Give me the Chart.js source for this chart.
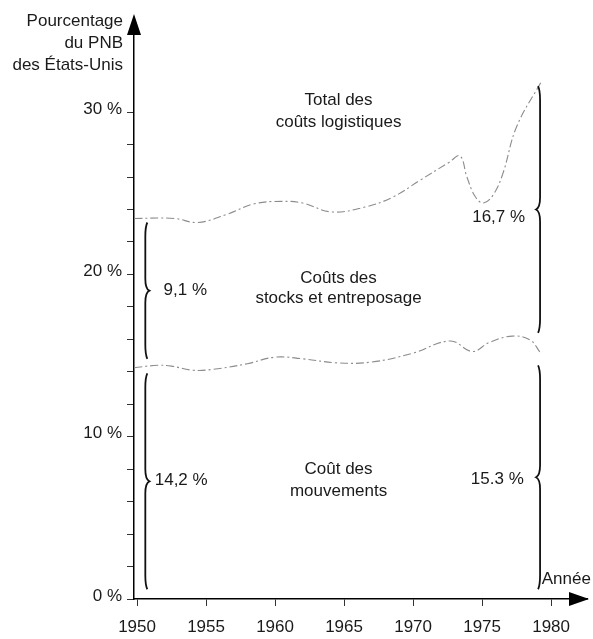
<!DOCTYPE html>
<html>
<head>
<meta charset="utf-8">
<title>Coûts logistiques — % du PNB des États-Unis</title>
<script src="https://cdn.jsdelivr.net/npm/chart.js@4.4.1/dist/chart.umd.min.js"></script>
<style>
  html, body { margin: 0; padding: 0; background: #fff; }
  #wrap { width: 593px; height: 639px; }
</style>
</head>
<body>
<div id="wrap"><canvas id="chart" width="593" height="639"></canvas></div>
<script>
// -------------------------------------------------------
// DATA
// upper curve: total logistics cost, % of GNP
const totalYears  = [1949.8, 1952.7, 1954.4, 1956.5, 1958.5, 1960.5, 1962.0, 1964.1, 1966.5, 1968.5, 1970.5, 1972.6, 1973.4, 1973.9, 1974.5, 1975.1, 1975.8, 1976.5, 1977.5, 1979.3];
const totalValues = [23.45, 23.45, 23.2, 23.7, 24.35, 24.5, 24.4, 23.85, 24.15, 24.75, 25.8, 26.9, 27.3, 26.0, 24.8, 24.4, 24.9, 26.2, 29.1, 31.9];

// lower curve: movement (transport) cost, % of GNP
const moveYears  = [1949.8, 1951.5, 1952.5, 1954.0, 1955.5, 1958.0, 1960.0, 1962.0, 1964.5, 1967.0, 1970.0, 1972.7, 1974.3, 1975.5, 1977.2, 1978.5, 1979.2];
const moveValues = [14.25, 14.4, 14.35, 14.1, 14.15, 14.5, 14.9, 14.8, 14.55, 14.6, 15.15, 15.9, 15.25, 15.8, 16.2, 15.95, 15.2];

// axis labels
const yLabelValues = [0, 10, 20, 30];
const yTitleLines = ["Pourcentage", "du PNB", "des États-Unis"];
const xTitle = "Année";

// braces (year, from, to)
const braceYears = [1950.6, 1950.6, 1979.2, 1979.2];
const braceLows  = [14.8, 0.6, 16.4, 0.6];
const braceHighs = [23.2, 13.9, 31.6, 14.4];

// text notes inside the plot (year, value)
const noteTexts  = ["Total des", "coûts logistiques", "Coûts des", "stocks et entreposage", "Coût des", "mouvements",
                    "9,1 %", "14,2 %", "16,7 %", "15.3 %", xTitle];
const noteYears  = [1964.6, 1964.6, 1964.6, 1964.6, 1964.6, 1964.6, 1953.5, 1953.2, 1976.2, 1976.1, 1981.1];
const noteValues = [30.7, 29.35, 19.75, 18.5, 8.0, 6.65, 19.0, 7.3, 23.5, 7.4, 1.2];

// -------------------------------------------------------
// SETUP
const FONT = "'Liberation Sans Narrow', 'Arial Narrow', 'Liberation Sans', sans-serif";
Chart.defaults.font.family = FONT;
Chart.defaults.color = "#1a1a1a";

const toPoints = (xs, ys) => xs.map((x, i) => ({ x, y: ys[i] }));

const lineStyle = {
  borderColor: "#8c8c8c",
  borderWidth: 1.1,
  borderDash: [8, 3, 2, 3],
  pointRadius: 0,
  tension: 0.4,
  fill: false,
};

// braces, notes, arrows and the y title
const decorations = {
  id: "decorations",
  afterDraw(chart) {
    const { ctx, chartArea: area, scales: { x, y } } = chart;
    ctx.save();

    // braces
    ctx.strokeStyle = "#111";
    ctx.lineWidth = 1.8;
    braceYears.forEach((yr, i) => {
      const px = x.getPixelForValue(yr);
      const top = y.getPixelForValue(braceHighs[i]);
      const bot = y.getPixelForValue(braceLows[i]);
      const dir = yr < 1965 ? 1 : -1;
      drawBrace(ctx, px, top, bot, dir);
    });

    // notes
    ctx.fillStyle = "#1a1a1a";
    ctx.font = "17px " + FONT;
    ctx.textAlign = "center";
    ctx.textBaseline = "middle";
    noteTexts.forEach((t, i) => {
      ctx.fillText(t, x.getPixelForValue(noteYears[i]), y.getPixelForValue(noteValues[i]));
    });

    // y axis title, right aligned against the axis
    ctx.textAlign = "right";
    yTitleLines.forEach((t, i) => {
      ctx.fillText(t, area.left - 11, 21 + i * 22);
    });

    // arrow heads
    ctx.fillStyle = "#000";
    ctx.beginPath();
    ctx.moveTo(area.left, area.top - 4);
    ctx.lineTo(area.left - 7, area.top + 17);
    ctx.lineTo(area.left + 7, area.top + 17);
    ctx.closePath();
    ctx.fill();

    ctx.beginPath();
    ctx.moveTo(area.right + 2, area.bottom);
    ctx.lineTo(area.right - 18, area.bottom - 7);
    ctx.lineTo(area.right - 18, area.bottom + 7);
    ctx.closePath();
    ctx.fill();

    ctx.restore();
  },
};

function drawBrace(ctx, x, top, bot, dir) {
  const mid = (top + bot) / 2;
  ctx.beginPath();
  ctx.moveTo(x + dir * 2, top);
  ctx.quadraticCurveTo(x, top + 4, x, top + 14);
  ctx.lineTo(x, mid - 12);
  ctx.quadraticCurveTo(x, mid - 2, x + dir * 4, mid);
  ctx.quadraticCurveTo(x, mid + 2, x, mid + 12);
  ctx.lineTo(x, bot - 14);
  ctx.quadraticCurveTo(x, bot - 4, x + dir * 2, bot);
  ctx.stroke();
}

// -------------------------------------------------------
// CHART
new Chart(document.getElementById("chart"), {
  type: "line",
  data: {
    datasets: [
      { label: "Total des coûts logistiques", data: toPoints(totalYears, totalValues), ...lineStyle },
      { label: "Coût des mouvements", data: toPoints(moveYears, moveValues), ...lineStyle },
    ],
  },
  options: {
    responsive: false,
    animation: false,
    devicePixelRatio: 1,
    layout: { padding: { top: 18, right: 6, left: 0, bottom: 0 } },
    plugins: { legend: { display: false }, tooltip: { enabled: false } },
    scales: {
      x: {
        type: "linear",
        min: 1949.78,
        max: 1982.6,
        afterFit: (s) => { s.height = 40; },
        border: { display: true, color: "#000", width: 1.5 },
        grid: { drawOnChartArea: false, drawTicks: true, tickLength: 7, color: "#333" },
        ticks: {
          stepSize: 5,
          includeBounds: false,
          maxRotation: 0,
          autoSkip: false,
          padding: 11,
          font: { size: 17 },
          callback: (v) => String(v),
        },
      },
      y: {
        min: 0,
        max: 35.8,
        afterFit: (s) => { s.width = 134; },
        // no ticks above the last labelled value
        afterBuildTicks: (s) => { s.ticks = s.ticks.filter((t) => t.value <= 30); },
        border: { display: true, color: "#000", width: 1.5 },
        grid: { drawOnChartArea: false, drawTicks: true, tickLength: 7, color: "#333" },
        ticks: {
          stepSize: 2,
          includeBounds: false,
          padding: 5,
          labelOffset: -3,
          font: { size: 17 },
          callback: (v) => (yLabelValues.includes(v) ? v + " %" : ""),
        },
      },
    },
  },
  plugins: [decorations],
});
</script>
</body>
</html>
